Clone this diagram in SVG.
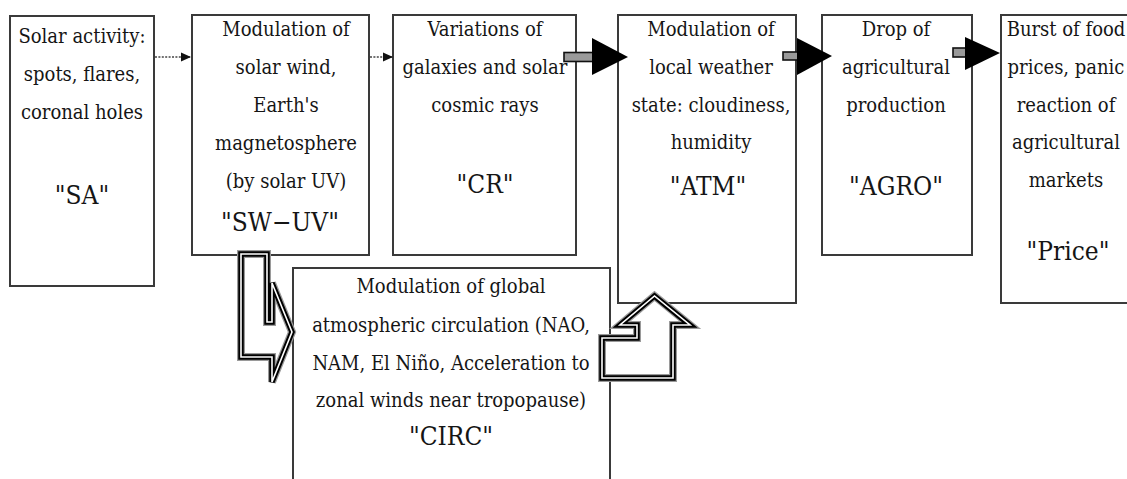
<svg xmlns="http://www.w3.org/2000/svg" width="1127" height="479" viewBox="0 0 1127 479">
  <style>
    .box { fill: #fff; stroke: #3a3a3a; stroke-width: 2; }
    .t { font-family: "DejaVu Serif Condensed", "DejaVu Serif", serif; font-size: 20px; fill: #151515; text-anchor: middle; }
    .big { font-family: "DejaVu Serif Condensed", "DejaVu Serif", serif; font-size: 26px; fill: #151515; text-anchor: middle; }
    .dot { stroke: #444; stroke-width: 1.6; stroke-dasharray: 2 1.4; fill: none; }
    .head { fill: #000; }
    .shaft { fill: #9a9a9a; stroke: #111; stroke-width: 1.6; }
    .hollow-o { fill: #fff; stroke: #9a9a9a; stroke-width: 8; stroke-linejoin: miter; }
    .hollow-b { fill: none; stroke: #000; stroke-width: 5.5; stroke-linejoin: miter; }
    .hollow-w { fill: none; stroke: #fff; stroke-width: 1.6; stroke-linejoin: miter; }
  </style>
  <defs>
    <marker id="tip" markerWidth="10" markerHeight="10" refX="9" refY="5" orient="auto" markerUnits="userSpaceOnUse">
      <path d="M0,0.5 L10,5 L0,9.5 Z" fill="#111"/>
    </marker>
    <!-- hollow L-shaped block arrows -->
    <path id="bend-down" d="M241,254 H267 V322 H272 V283 L292,332 L272,382 V357 H241 Z"/>
    <path id="bend-up" d="M602,338 H637 V325 H620 L654.5,296 L690,325 H673 V378 H602 Z"/>
  </defs>

  <g id="SA">
    <rect class="box" x="10" y="16" width="144" height="270"/>
    <text class="t" x="82" y="43">Solar activity:</text>
    <text class="t" x="82" y="81">spots, flares,</text>
    <text class="t" x="82" y="119">coronal holes</text>
    <text class="big" x="82" y="204">"SA"</text>
  </g>

  <g id="SW-UV">
    <rect class="box" x="192" y="15" width="177" height="240"/>
    <text class="t" x="286" y="36">Modulation of</text>
    <text class="t" x="286" y="74">solar wind,</text>
    <text class="t" x="286" y="112">Earth's</text>
    <text class="t" x="286" y="150">magnetosphere</text>
    <text class="t" x="286" y="188">(by solar UV)</text>
    <text class="big" x="280" y="231">"SW−UV"</text>
  </g>

  <g id="CR">
    <rect class="box" x="393" y="15" width="183" height="240"/>
    <text class="t" x="485" y="36">Variations of</text>
    <text class="t" x="485" y="74">galaxies and solar</text>
    <text class="t" x="485" y="112">cosmic rays</text>
    <text class="big" x="485" y="193">"CR"</text>
  </g>

  <g id="ATM">
    <rect class="box" x="618" y="15" width="178" height="288"/>
    <text class="t" x="711" y="36">Modulation of</text>
    <text class="t" x="711" y="74">local weather</text>
    <text class="t" x="711" y="112">state: cloudiness,</text>
    <text class="t" x="711" y="149">humidity</text>
    <text class="big" x="708" y="195">"ATM"</text>
  </g>

  <g id="AGRO">
    <rect class="box" x="822" y="15" width="150" height="240"/>
    <text class="t" x="896" y="36">Drop of</text>
    <text class="t" x="896" y="74">agricultural</text>
    <text class="t" x="896" y="112">production</text>
    <text class="big" x="896" y="195">"AGRO"</text>
  </g>

  <g id="Price">
    <rect class="box" x="1001" y="15" width="140" height="288"/>
    <text class="t" x="1066" y="36">Burst of food</text>
    <text class="t" x="1066" y="74">prices, panic</text>
    <text class="t" x="1066" y="112">reaction of</text>
    <text class="t" x="1066" y="149">agricultural</text>
    <text class="t" x="1066" y="187">markets</text>
    <text class="big" x="1068" y="260">"Price"</text>
  </g>

  <g id="CIRC">
    <rect class="box" x="293" y="268" width="317" height="230"/>
    <text class="t" x="451" y="293">Modulation of global</text>
    <text class="t" x="451" y="332">atmospheric circulation (NAO,</text>
    <text class="t" x="451" y="370">NAM, El Niño, Acceleration to</text>
    <text class="t" x="451" y="407">zonal winds near tropopause)</text>
    <text class="big" x="451" y="445">"CIRC"</text>
  </g>

  <g id="connectors">
    <!-- dotted links -->
    <line class="dot" x1="155" y1="57" x2="190" y2="57" marker-end="url(#tip)"/>
    <line class="dot" x1="370" y1="57" x2="392" y2="57" marker-end="url(#tip)"/>

    <!-- bold arrows along the top row -->
    <rect class="shaft" x="564" y="52.5" width="30" height="9"/>
    <path class="head" d="M592,38 L628,57 L592,75 Z"/>

    <rect class="shaft" x="783" y="52" width="16" height="8"/>
    <path class="head" d="M797,38 L832,56 L797,75 Z"/>

    <rect class="shaft" x="953" y="48" width="14" height="9"/>
    <path class="head" d="M965,37 L1000,53 L965,70 Z"/>

    <!-- hollow bent arrows to and from CIRC -->
    <use href="#bend-down" class="hollow-o"/>
    <use href="#bend-down" class="hollow-b"/>
    <use href="#bend-down" class="hollow-w"/>

    <use href="#bend-up" class="hollow-o"/>
    <use href="#bend-up" class="hollow-b"/>
    <use href="#bend-up" class="hollow-w"/>
  </g>
</svg>
